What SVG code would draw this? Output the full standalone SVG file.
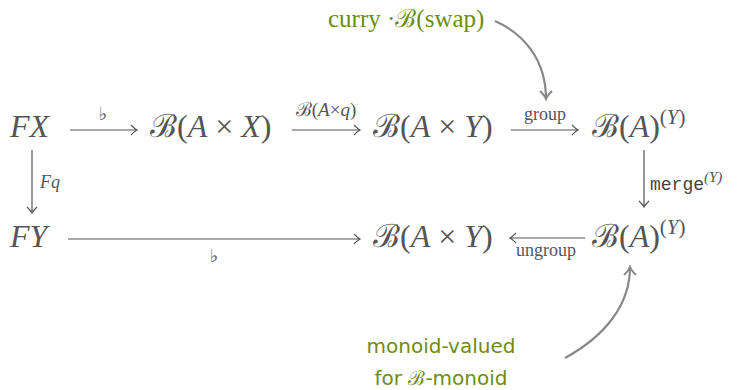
<svg xmlns="http://www.w3.org/2000/svg" width="740" height="390" viewBox="0 0 740 390">
<style>
.m{font-family:"Liberation Serif","DejaVu Serif",serif;fill:#555;}
.big{font-size:32px;}
.lbl{font-size:18px;}
.i{font-style:italic;}
.tt{font-family:"Liberation Mono","DejaVu Sans Mono",monospace;font-size:18px;fill:#444;}
.g{fill:#6b8e10;}
.gs{font-family:"DejaVu Sans","Noto Sans",sans-serif;font-size:20px;fill:#6b8e10;}
.ar{stroke:#555;stroke-width:1.2;fill:none;marker-end:url(#h);}
.cv{stroke:#888;stroke-width:2.2;fill:none;marker-end:url(#hc);}
</style>
<defs>
<marker id="h" viewBox="-8 -6 10 12" refX="0" refY="0" markerWidth="10" markerHeight="12" markerUnits="userSpaceOnUse" orient="auto">
<path d="M -6 -5 Q -2 -1 0 0 Q -2 1 -6 5" fill="none" stroke="#555" stroke-width="1.2"/>
</marker>
<marker id="hc" viewBox="-10 -8 12 16" refX="0" refY="0" markerWidth="12" markerHeight="16" markerUnits="userSpaceOnUse" orient="auto">
<path d="M -8 -6 Q -3 -1 0 0 Q -3 1 -8 6" fill="none" stroke="#888" stroke-width="2"/>
</marker>
</defs>
<g id="FX"><text class="m big" x="10" y="137"><tspan class="i">FX</tspan></text></g>
<g id="BAX"><text class="m big" x="150" y="137">ℬ(<tspan class="i">A</tspan> × <tspan class="i">X</tspan>)</text></g>
<g id="BAY1"><text class="m big" x="373" y="137">ℬ(<tspan class="i">A</tspan> × <tspan class="i">Y</tspan>)</text></g>
<g id="BAY2"><text class="m big" x="592" y="137">ℬ(<tspan class="i">A</tspan>)<tspan font-size="21" dy="-13">(<tspan class="i">Y</tspan>)</tspan></text></g>
<g id="FY"><text class="m big" x="10" y="247"><tspan class="i">FY</tspan></text></g>
<g id="BAY3"><text class="m big" x="373" y="247">ℬ(<tspan class="i">A</tspan> × <tspan class="i">Y</tspan>)</text></g>
<g id="BAY4"><text class="m big" x="592" y="247">ℬ(<tspan class="i">A</tspan>)<tspan font-size="21" dy="-13">(<tspan class="i">Y</tspan>)</tspan></text></g>
<g id="note1"><text class="m g" font-size="25" x="328" y="27">curry ·ℬ(swap)</text></g>
<g id="note2"><text class="gs" x="441" y="353" text-anchor="middle">monoid-valued</text><text class="gs" x="441" y="385" text-anchor="middle">for <tspan font-family="Liberation Serif,DejaVu Serif,serif">ℬ</tspan>-monoid</text></g>
<g id="connectors">
<line class="ar" x1="70" y1="130" x2="137" y2="130"/>
<text class="m lbl" x="103" y="120" text-anchor="middle">♭</text>
<line class="ar" x1="292" y1="130" x2="360" y2="130"/>
<text class="m" font-size="19" x="326" y="116" text-anchor="middle">ℬ(<tspan class="i">A</tspan>×<tspan class="i">q</tspan>)</text>
<line class="ar" x1="511" y1="130" x2="578" y2="130"/>
<text class="m lbl" x="545" y="120" text-anchor="middle">group</text>
<line class="ar" x1="32" y1="150" x2="32" y2="213"/>
<text class="m lbl i" x="40" y="188">Fq</text>
<line class="ar" x1="68" y1="239" x2="360" y2="239"/>
<text class="m lbl" x="214" y="262" text-anchor="middle">♭</text>
<line class="ar" x1="585" y1="238" x2="510" y2="238"/>
<text class="m lbl" x="546" y="256" text-anchor="middle">ungroup</text>
<line class="ar" x1="644" y1="150" x2="644" y2="207"/>
<text x="650" y="190"><tspan class="tt">merge</tspan><tspan class="m i" font-size="15" dy="-8">(Y)</tspan></text>
<path class="cv" d="M 495 21 C 522 33 546 58 546 99"/>
<path class="cv" d="M 565 358 C 605 336 630 305 630 267"/>
</g>
</svg>
